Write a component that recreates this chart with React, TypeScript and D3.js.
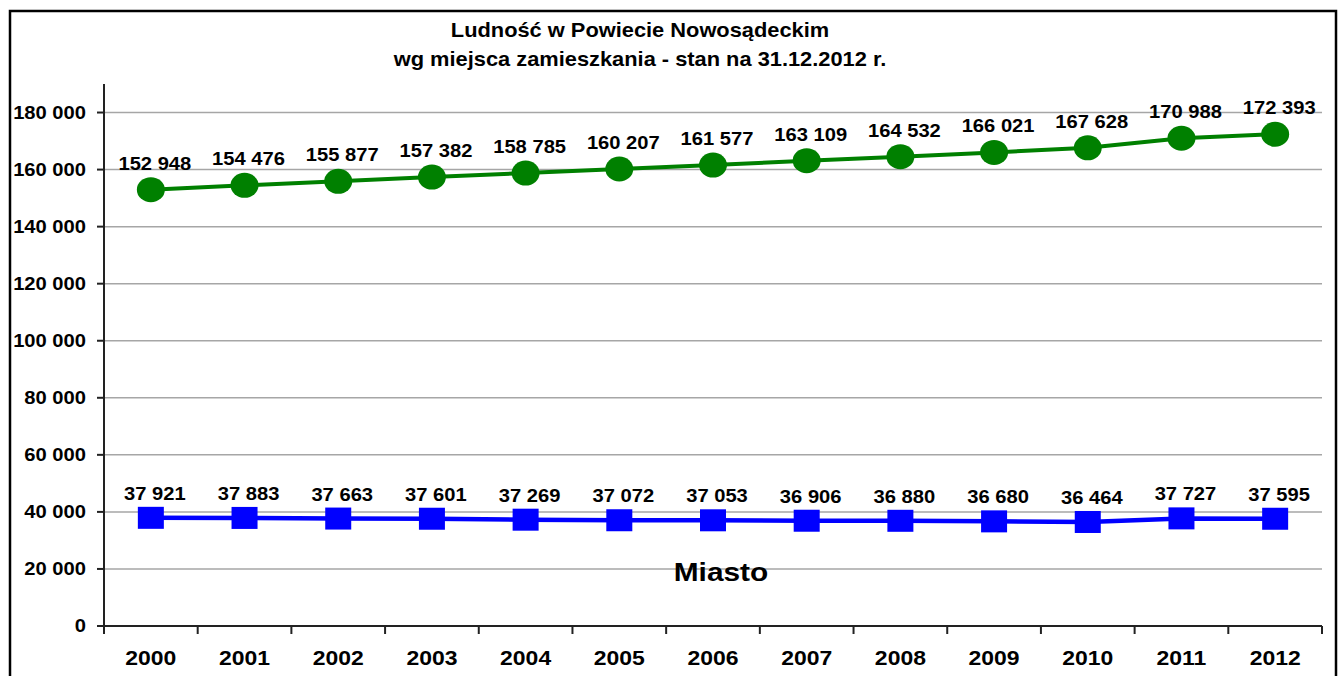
import React from 'react';
import * as d3 from 'd3';

const years = ['2000', '2001', '2002', '2003', '2004', '2005', '2006', '2007', '2008', '2009', '2010', '2011', '2012'];
const wies = [152948, 154476, 155877, 157382, 158785, 160207, 161577, 163109, 164532, 166021, 167628, 170988, 172393];
const miasto = [37921, 37883, 37663, 37601, 37269, 37072, 37053, 36906, 36880, 36680, 36464, 37727, 37595];
const yTicks = [0, 20000, 40000, 60000, 80000, 100000, 120000, 140000, 160000, 180000];
const titleLines = ['Ludność w Powiecie Nowosądeckim', 'wg miejsca zamieszkania - stan na 31.12.2012 r.'];

const W = 1339;
const H = 676;
const SX = 1.12; // the original picture is stretched a little horizontally
const FONT = "'Liberation Sans', Arial, sans-serif";

const fmt = (v: number) => d3.format(',')(v).replace(/,/g, ' ');

function T(props: { x: number; y: number; size: number; anchor?: string; sx?: number; children: React.ReactNode }) {
    const { x, y, size, anchor = 'middle', sx = SX, children } = props;
    return (
        <text
            transform={`translate(${x},${y}) scale(${sx},1)`}
            textAnchor={anchor}
            fontFamily={FONT}
            fontWeight="bold"
            fontSize={size}
            fill="#000"
        >
            {children}
        </text>
    );
}

export default function App() {
    const left = 104;
    const right = 1322;
    const top = 84;
    const bottom = 626;

    const x = d3.scaleBand().domain(years).range([left, right]).padding(0);
    const cx = (d: string) => (x(d) as number) + x.bandwidth() / 2;
    const y = d3.scaleLinear().domain([0, 190000]).range([bottom, top]);

    const line = d3
        .line<number>()
        .x((d, i) => cx(years[i]))
        .y((d) => y(d));

    return (
        <svg width={W} height={H} style={{ position: 'absolute', left: 0, top: 0, background: '#fff' }}>
            <rect x={10} y={11} width={1326} height={700} fill="#fff" stroke="#000" strokeWidth={2.5} />

            {titleLines.map((t, i) => (
                <T key={t} x={640} y={37 + i * 29} size={19.5}>
                    {t}
                </T>
            ))}

            {/* gridlines */}
            {yTicks
                .filter((t) => t > 0)
                .map((t) => (
                    <line key={t} x1={left} x2={right} y1={y(t)} y2={y(t)} stroke="#a6a6a6" strokeWidth={1.5} />
                ))}

            {/* y axis */}
            <line x1={left} x2={left} y1={top} y2={bottom + 8} stroke="#222" strokeWidth={2} />
            {yTicks.map((t) => (
                <g key={t}>
                    <line x1={left - 7} x2={left} y1={y(t)} y2={y(t)} stroke="#222" strokeWidth={2} />
                    <T x={86} y={y(t) + 6} size={18} anchor="end">
                        {fmt(t)}
                    </T>
                </g>
            ))}

            {/* x axis */}
            <line x1={left} x2={right} y1={bottom} y2={bottom} stroke="#222" strokeWidth={2} />
            {years.map((d) => (
                <line key={'t' + d} x1={(x(d) as number) + x.bandwidth()} x2={(x(d) as number) + x.bandwidth()} y1={bottom} y2={bottom + 8} stroke="#222" strokeWidth={2} />
            ))}
            {years.map((d) => (
                <T key={'l' + d} x={cx(d)} y={665} size={20.5}>
                    {d}
                </T>
            ))}

            {/* green series */}
            <path d={line(wies) as string} fill="none" stroke="#008000" strokeWidth={4} />
            {wies.map((v, i) => (
                <ellipse key={'g' + i} cx={cx(years[i])} cy={y(v)} rx={14} ry={12.5} fill="#008000" />
            ))}
            {wies.map((v, i) => (
                <T key={'gl' + i} x={cx(years[i]) + 4} y={y(v) - 20} size={18}>
                    {fmt(v)}
                </T>
            ))}

            {/* blue series */}
            <path d={line(miasto) as string} fill="none" stroke="#0000ff" strokeWidth={4.5} />
            {miasto.map((v, i) => (
                <rect key={'b' + i} x={cx(years[i]) - 13} y={y(v) - 11} width={26} height={22} fill="#0000ff" />
            ))}
            {miasto.map((v, i) => (
                <T key={'bl' + i} x={cx(years[i]) + 4} y={y(v) - 18} size={18}>
                    {fmt(v)}
                </T>
            ))}

            <T x={cx('2006') + 8} y={y(15800)} size={25.5} sx={1.17}>
                Miasto
            </T>
        </svg>
    );
}
